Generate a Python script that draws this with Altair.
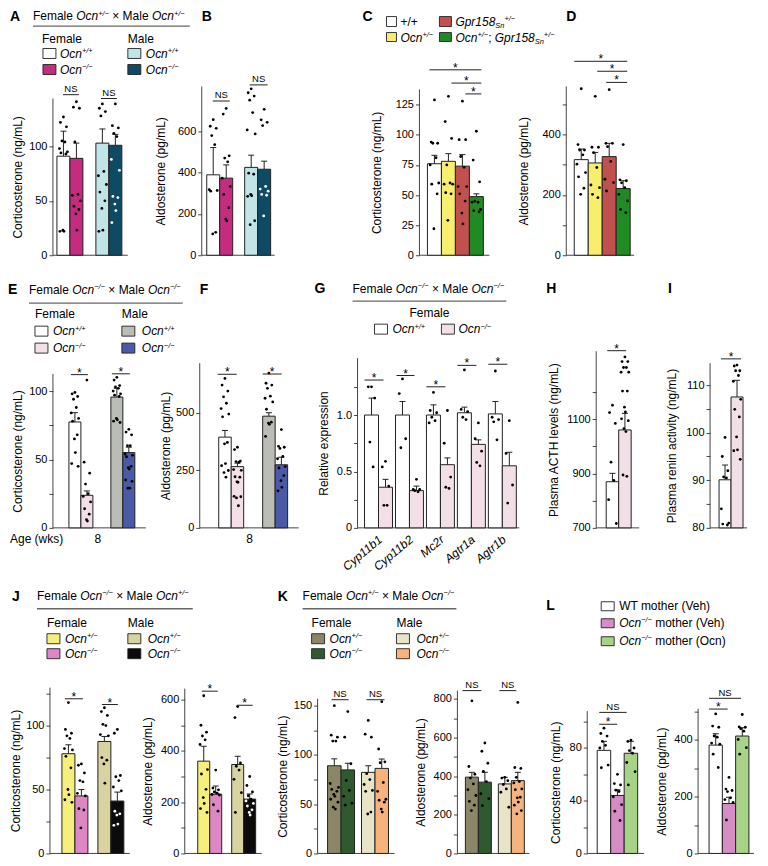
import altair as alt
import pandas as pd

FONT = "Liberation Sans"
MINUS = "\u2212"
PP, PM, MM = "+/+", "+/" + MINUS, MINUS + "/" + MINUS

# ---------------- colours ----------------
A_COL = ["#ffffff", "#c52b7f", "#c0e4e7", "#0e4a64"]
C_COL = ["#ffffff", "#f6ee6c", "#c1504e", "#1f8b22"]
E_COL = ["#ffffff", "#f3dfe8", "#b9bdb5", "#4b5aa7"]
G_COL = ["#ffffff", "#f3dfe8"]
J_COL = ["#f6ef7c", "#dc88c4", "#d8d3a1", "#0b0b0b"]
K_COL = ["#8c8669", "#2f5a30", "#e7e4c7", "#f6b37d"]
L_COL = ["#ffffff", "#d68cc5", "#a7d386"]

# ---------------- values ----------------
A_means = [91, 89, 103, 101]
A_upper = [114, 103, 116, 111]
A_dots = [[127, 122, 118, 105, 104, 98, 95, 94, 93, 23, 22, 22],
          [141, 136, 135, 104, 56, 55, 50, 45, 42, 38, 23],
          [139, 135, 132, 128, 77, 73, 65, 58, 50, 43, 23, 22],
          [139, 119, 117, 112, 109, 88, 78, 54, 53, 47, 41, 30]]
B_means = [389, 373, 425, 416]
B_upper = [521, 437, 484, 455]
B_dots = [[656, 624, 614, 579, 535, 317, 313, 310, 111, 103],
          [710, 683, 481, 470, 452, 373, 333, 294, 230, 175, 167],
          [805, 786, 770, 750, 690, 606, 587, 397, 392, 294, 288, 285, 167, 148],
          [706, 655, 643, 627, 333, 320, 310, 294, 290, 190]]
C_means = [76, 78, 74, 48.7]
C_upper = [83, 84.4, 83.6, 51]
C_dots = [[129, 94, 93, 93, 81, 75, 60, 59, 51, 22],
          [132, 111, 97, 75, 60, 59, 59, 52, 51, 29],
          [128, 96, 96, 82, 73, 57, 57, 51, 45, 35, 26],
          [103, 79, 61, 45, 44, 44, 38, 37, 36]]
D_means = [317, 306, 327, 221]
D_upper = [352, 341, 371, 247]
D_dots = [[552, 367, 349, 349, 333, 302, 274, 260, 222, 202],
          [527, 358, 358, 340, 291, 233, 224, 202, 191],
          [549, 371, 371, 360, 311, 252, 241, 213],
          [367, 250, 247, 240, 224, 202, 180, 152, 141]]
E_means = [77.4, 23.8, 95.6, 55]
E_upper = [84.2, 27, 102, 59]
E_dots = [[99, 98, 96, 94, 88, 84, 80, 78, 68, 65, 55, 47, 45],
          [108, 48, 40, 32, 25, 23, 19, 14, 10, 6, 5],
          [110, 108, 104, 103, 102, 100, 98, 97, 96, 80, 79, 78, 77],
          [72, 70, 68, 60, 60, 54, 53, 52, 45, 44, 43, 35, 34, 29, 29]]
F_means = [394, 266, 485, 274]
F_upper = [423, 281, 500, 307]
F_dots = [[649, 620, 594, 569, 541, 518, 494, 482, 371, 365, 279, 270, 249, 240, 220],
          [350, 340, 290, 288, 285, 253, 250, 222, 220, 200, 198, 137, 135, 130, 96],
          [672, 628, 620, 606, 572, 563, 547, 515, 459, 455, 450, 397],
          [427, 354, 350, 345, 310, 300, 266, 260, 227, 205, 176, 161]]
G_genes = ["Cyp11b1", "Cyp11b2", "Mc2r", "Agtr1a", "Agtr1b"]
G_wt_means = [1.0, 1.0, 1.0, 1.02, 1.01]
G_wt_upper = [1.15, 1.12, 1.09, 1.07, 1.12]
G_ko_means = [0.36, 0.33, 0.56, 0.74, 0.55]
G_ko_upper = [0.43, 0.37, 0.62, 0.78, 0.67]
G_wt_dots = [[1.25, 1.25, 1.15, 0.76, 0.54], [1.32, 1.19, 0.79, 0.71],
             [1.2, 1.04, 1.02, 0.98, 0.95, 0.93], [1.40, 1.05, 1.03, 0.98, 0.96],
             [1.39, 0.98, 0.96, 0.94, 0.78]]
G_ko_dots = [[0.59, 0.54, 0.37, 0.2, 0.2], [0.43, 0.34, 0.34, 0.33, 0.32],
             [1.04, 0.75, 0.45, 0.36, 0.35], [0.93, 0.79, 0.68, 0.58, 0.55],
             [0.95, 0.66, 0.38, 0.22]]
H_means = [870, 1061]
H_upper = [901, 1122]
H_dots = [[1152, 1125, 1085, 942, 875, 804, 716],
          [1330, 1313, 1313, 1291, 1291, 1274, 1274, 1204, 1204, 1145, 1127, 1102, 1095, 1066, 1055, 895, 890]]
I_means = [90.1, 107.5]
I_upper = [93.2, 111]
I_dots = [[99, 95, 92, 90.7, 90.5, 84, 81, 80.8, 80.6],
          [114.2, 114, 113, 113, 112, 110.8, 107, 104.9, 103.3, 99.1, 96.4, 96.2, 94.4]]
J1_means = [78, 45, 87.6, 41]
J1_upper = [85, 50, 91.5, 48]
J1_dots = [[118, 97, 94, 92, 90, 82, 81, 76, 67, 50, 46, 42, 40],
           [70, 69, 63, 57, 56, 47, 45, 35, 34, 20],
           [114, 111, 108, 101, 100, 93, 92, 75, 73, 70, 55],
           [97, 94, 61, 60, 57, 52, 49, 33, 31, 30, 23, 22]]
J2_means = [360, 231, 347, 212]
J2_upper = [418, 263, 379, 232]
J2_dots = [[615, 500, 473, 458, 443, 425, 327, 310, 250, 218, 195, 175, 160],
           [325, 255, 248, 240, 235, 230, 228, 190, 165],
           [573, 530, 353, 340, 325, 289, 237, 160],
           [300, 265, 240, 225, 212, 205, 195, 185, 170, 160, 150]]
K1_means = [89, 84.8, 82.3, 86.3]
K1_upper = [96, 91.5, 89, 95.8]
K1_dots = [[150, 120, 118, 114, 114, 71, 67, 65, 63, 60, 58, 55, 52, 47, 45],
           [144, 118, 91, 74, 64, 58, 51, 49],
           [135, 121, 118, 81, 75, 70, 64, 63, 42, 40],
           [154, 106, 93, 92, 72, 63, 55, 54, 52, 45, 42]]
K2_means = [395, 369, 360, 377]
K2_upper = [420, 420, 394, 420]
K2_dots = [[790, 450, 410, 390, 360, 330, 300, 270, 250, 222],
           [572, 529, 467, 425, 372, 309, 283, 248],
           [394, 390, 377, 357, 334, 317, 239],
           [782, 445, 440, 394, 372, 365, 334, 330, 291, 288, 266, 250, 222, 205]]
L1_means = [78.2, 44, 76]
L1_upper = [85, 48.3, 85]
L1_dots = [[95, 91, 89, 85, 82, 80, 67, 65],
           [60, 53, 52, 48, 47, 43, 37, 32, 25],
           [86, 85, 80, 78, 76, 69, 62, 52]]
L2_means = [382, 176, 414]
L2_upper = [422, 198, 443]
L2_dots = [[492, 449, 445, 414, 410, 389, 385, 350, 303],
           [268, 227, 222, 218, 196, 190, 180, 118],
           [490, 446, 445, 440, 431, 402, 373, 350]]

G_means, G_upper, G_dots, G_colors = [], [], [], []
for k in range(len(G_genes)):
    G_means += [G_wt_means[k], G_ko_means[k]]
    G_upper += [G_wt_upper[k], G_ko_upper[k]]
    G_dots += [G_wt_dots[k], G_ko_dots[k]]
    G_colors += G_COL

DATA = {
    "A": (A_means, A_upper, A_dots, A_COL), "B": (B_means, B_upper, B_dots, A_COL),
    "C": (C_means, C_upper, C_dots, C_COL), "D": (D_means, D_upper, D_dots, C_COL),
    "E": (E_means, E_upper, E_dots, E_COL), "F": (F_means, F_upper, F_dots, E_COL),
    "G": (G_means, G_upper, G_dots, G_colors),
    "H": (H_means, H_upper, H_dots, G_COL), "I": (I_means, I_upper, I_dots, G_COL),
    "J1": (J1_means, J1_upper, J1_dots, J_COL), "J2": (J2_means, J2_upper, J2_dots, J_COL),
    "K1": (K1_means, K1_upper, K1_dots, K_COL), "K2": (K2_means, K2_upper, K2_dots, K_COL),
    "L1": (L1_means, L1_upper, L1_dots, L_COL), "L2": (L2_means, L2_upper, L2_dots, L_COL),
}

# ---------------- layout (styles / positions) ----------------
ROWS = [dict(top=85, bottom=254, band=(8, 266)),
        dict(top=266, bottom=527, band=(266, 576)),
        dict(top=576, bottom=853, band=(576, 853))]
CORT = "Corticosterone (ng/mL)"
ALDO = "Aldosterone (pg/mL)"


def rng(a, b, s):
    out, v = [], a
    while v <= b + 1e-9:
        out.append(round(v, 4))
        v += s
    return out


LAY = {
    "A": dict(row=0, ax=53, width=149, y0=0, ppu=1.09, first=4, bw=13, gap=13, per=2, base=75, top=144,
              ticks=[0, 50, 100], lab=[0, 50, 100], title=CORT, tx=-35.5,
              sig=[(0, 1, 147.5, "NS", 6, 4), (2, 3, 144, "NS", 5, 5)], dark=[3], anchor=True),
    "B": dict(row=0, ax=202, width=218, y0=0, ppu=0.207, first=5, bw=13, gap=12, per=2, base=73, top=816,
              ticks=[0, 200, 400, 600], lab=[0, 200, 400, 600], title=ALDO, tx=-41,
              sig=[(0, 1, 746, "NS", 6, 3), (2, 3, 824, "NS", 5, 3)], dark=[3]),
    "C": dict(row=0, ax=420, width=147, y0=0, ppu=1.2056, first=8, bw=14, gap=0, per=4, base=70, top=137.7,
              ticks=rng(0, 125, 25), lab=rng(0, 125, 25), title=CORT, tx=-43,
              sig=[(0, 3, 154, "*", 2, 2), (1, 3, 143, "*", 10, 2), (2, 3, 134, "*", 10, 2)], dark=[]),
    "D": dict(row=0, ax=567, width=160, y0=0, ppu=0.302, first=8, bw=14, gap=0, per=4, base=68, top=560,
              ticks=rng(0, 500, 100), lab=[0, 200, 400], title=ALDO, tx=-43,
              sig=[(0, 3, 643, "*", 0, 3), (1, 3, 610, "*", 9, 3), (2, 3, 573, "*", 4, 3)], dark=[]),
    "E": dict(row=1, ax=53, width=147, y0=0, ppu=1.37, first=16, bw=12, gap=18, per=2, base=93, top=112.4,
              ticks=rng(0, 100, 25), lab=[0, 50, 100], title=CORT, tx=-35.5,
              sig=[(0, 1, 112, "*", 2, 5), (2, 3, 112.6, "*", 1, 5)], dark=[], anchor=True),
    "F": dict(row=1, ax=200, width=158, y0=0, ppu=0.2306, first=19, bw=12.5, gap=19, per=2, base=99, top=715,
              ticks=[0, 250, 500], lab=[0, 250, 500], title=ALDO, tx=-34,
              sig=[(0, 1, 667, "*", -1, 7), (2, 3, 668, "*", 0, 6)], dark=[]),
    "G": dict(row=1, ax=358, width=239, y0=0, ppu=113, first=7, bw=14, gap=3, per=2, base=162, top=1.504,
              ticks=rng(0, 1.25, 0.25), lab={0: "0", 0.5: "0.5", 1: "1.0"}, title="Relative expression", tx=-34,
              sig=[(0, 1, 1.31, "*", 0, 9), (2, 3, 1.35, "*", 1, 9), (4, 5, 1.25, "*", 0, 9),
                   (6, 7, 1.44, "*", 0, 9), (8, 9, 1.45, "*", 0, 9)], dark=[]),
    "H": dict(row=1, ax=597, width=114, y0=700, ppu=0.2717, first=10, bw=12.5, gap=0, per=2, base=43, top=1351,
              ticks=rng(700, 1200, 100), lab=[700, 900, 1100], title="Plasma ACTH levels (ng/mL)", tx=-43,
              sig=[(0, 1, 1353, "*", 1, 5)], dark=[]),
    "I": dict(row=1, ax=711, width=50, y0=80, ppu=4.767, first=9, bw=12, gap=0, per=2, base=37, top=114.6,
              ticks=rng(80, 110, 5), lab=[80, 90, 100, 110], title="Plasma renin activity (ng/mL)", tx=-38.5,
              sig=[(0, 1, 115.5, "*", 2, 2)], dark=[]),
    "J1": dict(row=2, ax=50, width=135, y0=0, ppu=1.28, first=12, bw=13, gap=10, per=2, base=80, top=129.7,
               ticks=rng(0, 125, 25), lab=[0, 50, 100], title=CORT, tx=-34,
               sig=[(0, 1, 121, "*", 3, 5), (2, 3, 116.5, "*", 4, 6)], dark=[3], anchor=True),
    "J2": dict(row=2, ax=185, width=133, y0=0, ppu=0.2567, first=13, bw=12, gap=10, per=2, base=77, top=643,
               ticks=rng(0, 600, 100), lab=[0, 200, 400, 600], title=ALDO, tx=-37.5,
               sig=[(0, 1, 633, "*", 4, 4), (2, 3, 578, "*", 5, 3)], dark=[3]),
    "K1": dict(row=2, ax=318, width=140, y0=0, ppu=0.9867, first=10, bw=13.5, gap=7, per=2, base=77, top=157,
               ticks=rng(0, 150, 25), lab=[0, 50, 100, 150], title=CORT, tx=-35.5,
               sig=[(0, 1, 156, "NS", 4, 6), (2, 3, 156, "NS", 5, 4)], dark=[]),
    "K2": dict(row=2, ax=458, width=130, y0=0, ppu=0.1934, first=8, bw=13, gap=7, per=2, base=72, top=843,
               ticks=rng(0, 800, 100), lab=[0, 200, 400, 600, 800], title=ALDO, tx=-37,
               sig=[(0, 1, 843, "NS", -3, 10), (2, 3, 843, "NS", 1, 8)], dark=[]),
    "L1": dict(row=2, ax=588, width=111, y0=0, ppu=1.32, first=10, bw=13.5, gap=0, per=3, base=57, top=108,
               ticks=rng(0, 100, 20), lab=[0, 40, 80], title=CORT, tx=-32,
               sig=[(0, 1, 98, "*", 2, 7), (0, 2, 107, "NS", 2, 11)], dark=[]),
    "L2": dict(row=2, ax=699, width=62, y0=0, ppu=0.284, first=11, bw=13.3, gap=0, per=3, base=56, top=510,
               ticks=rng(0, 500, 100), lab=[0, 200, 400], title=ALDO, tx=-36.5,
               sig=[(0, 1, 509, "*", 0, 8), (0, 2, 547, "NS", 0, 8)], dark=[]),
}

# ---------------- text helpers (Arial / Liberation Sans metrics) ----------------
ARIAL = {}
for chars, w in [(" ", 278), ("()-", 333), ("+" + MINUS + "\u00d7", 584), ("/;.,", 278), ("*", 389),
                 ("0123456789", 556), ("abdeghnopqu", 556), ("ckvxyzs", 500), ("ilj", 222), ("ft", 278),
                 ("r", 333), ("m", 833), ("w", 722), ("ABEKPSVXY", 667), ("CDHNRU", 722), ("GOQ", 778),
                 ("FTZ", 611), ("L", 556), ("M", 833), ("W", 944), ("I", 278), ("J", 500)]:
    for ch in chars:
        ARIAL[ch] = w


def tw(s, size):
    return sum(ARIAL.get(ch, 556) for ch in s) * size / 1000.0


def T(x, y, segs, size=12, align="left"):
    return ("text", x, y, segs, size, align)


def R(x1, y1, x2, y2, col):
    return ("rect", x1, y1, x2, y2, col)


def Ln(x1, x2, y):
    return ("line", x1, x2, y)


def cross(f, m):
    return [("Female ", "n"), ("Ocn", "i"), (f, "sup"), (" \u00d7 Male ", "n"), ("Ocn", "i"), (m, "sup")]


def ocn(g, rest=None):
    s = [("Ocn", "i"), (g, "sup")]
    if rest:
        s.append((rest, "n"))
    return s


def sexleg(x1, x2, xl1, xl2, yh, ys1, ys2, cols, g1, g2, xf=None):
    return [T(xf if xf else x1, yh, [("Female", "n")]), T(x2, yh, [("Male", "n")]),
            R(x1, ys1 - 5, x1 + 13, ys1 + 5, cols[0]), R(x1, ys2 - 5, x1 + 13, ys2 + 5, cols[1]),
            R(x2, ys1 - 5, x2 + 13, ys1 + 5, cols[2]), R(x2, ys2 - 5, x2 + 13, ys2 + 5, cols[3]),
            T(xl1, ys1, ocn(g1)), T(xl1, ys2, ocn(g2)), T(xl2, ys1, ocn(g1)), T(xl2, ys2, ocn(g2))]


GPR = [("Gpr158", "i"), ("Sn", "sub"), (PM, "sup")]
HEAD = {
    "A": [T(10, 14, [("A", "b")], 14), T(33, 14.5, cross(PM, PM)), Ln(33, 190, 24.5)]
         + sexleg(43, 128, 60, 146, 37, 52, 68, A_COL, PP, MM, xf=42),
    "B": [T(202, 14, [("B", "b")], 14)],
    "C": [T(363, 14, [("C", "b")], 14),
          R(387, 15, 397, 25, C_COL[0]), T(401, 20, [("+/+", "n")]),
          R(387, 31, 397, 40, C_COL[1]), T(401, 36, ocn(PM)),
          R(440, 15, 452, 25, C_COL[2]), T(456, 20, GPR),
          R(440, 31, 452, 40, C_COL[3]), T(456, 36, ocn(PM) + [("; ", "n")] + GPR)],
    "D": [T(567, 14, [("D", "b")], 14)],
    "E": [T(8, 288, [("E", "b")], 14), T(29, 288, cross(MM, MM)), Ln(29, 183, 302),
          T(10, 538, [("Age (wks)", "n")]), T(98, 538, [("8", "n")], align="center")]
         + sexleg(35, 122, 53, 142, 313, 330, 347, E_COL, PP, MM),
    "F": [T(200, 288, [("F", "b")], 14), T(250, 538, [("8", "n")], align="center")],
    "G": [T(315, 287, [("G", "b")], 14), T(353, 287, cross(MM, MM)), Ln(353, 507, 300),
          T(430, 312, [("Female", "n")], align="center"),
          R(375, 323, 388, 333, G_COL[0]), T(393, 328, ocn(PP)),
          R(442, 323, 455, 333, G_COL[1]), T(459, 328, ocn(MM))],
    "H": [T(547, 287, [("H", "b")], 14)],
    "I": [T(669, 287, [("I", "b")], 14)],
    "J1": [T(12, 595, [("J", "b")], 14), T(37, 595, cross(MM, PM)), Ln(37, 193, 608)]
          + sexleg(47, 128, 65, 148, 622, 638, 653, J_COL, PM, MM),
    "K1": [T(278, 595, [("K", "b")], 14), T(303, 595, cross(PM, MM)), Ln(303, 457, 608)]
          + sexleg(312, 397, 330, 417, 622, 638, 653, K_COL, PM, MM, xf=312),
    "L1": [T(547, 604, [("L", "b")], 14),
           R(602, 601, 615, 610, L_COL[0]), T(620, 605, [("WT mother (Veh)", "n")]),
           R(602, 618, 615, 627, L_COL[1]), T(620, 622, ocn(MM, " mother (Veh)")),
           R(602, 636, 615, 645, L_COL[2]), T(620, 640, ocn(MM, " mother (Ocn)"))],
}

JIT = [0, -3, 3, -1.5, 1.5, -4, 4, -2.5, 2.5, -0.5, 0.5, -3.5, 3.5, -1, 1, -2, 2]


def build(key):
    lay = LAY[key]
    means, upper, dots, cols = DATA[key]
    row = ROWS[lay["row"]]
    rb, rt = row["bottom"], row["top"]
    H = rb - rt
    ax, y0, ppu, W = lay["ax"], lay["y0"], lay["ppu"], lay["width"]

    def dy(py):
        return y0 + (rb - py) / ppu

    def dx(px):
        return px - ax

    xs = alt.Scale(domain=[0, W], nice=False, zero=False)
    ys = alt.Scale(domain=[dy(rb), dy(rt)], nice=False, zero=False)
    lab = lay["lab"]
    if isinstance(lab, dict):
        items = list(lab.items())
    else:
        items = [(v, str(v)) for v in lab]
    expr = "''"
    for v, s in reversed(items):
        expr = "datum.value == %s ? '%s' : (%s)" % (v, s, expr)
    top_px = rb - (lay["top"] - y0) * ppu
    yax = alt.Axis(values=lay["ticks"], labelExpr=expr, title=lay["title"], titleX=lay["tx"],
                   titleY=(top_px + rb) / 2 - rt, titleAngle=270, titleAlign="center",
                   titleBaseline="middle", labelFlush=False, labelOverlap=False)

    def X(f):
        return alt.X(f, type="quantitative", scale=xs, axis=None)

    def Y(f):
        return alt.Y(f, type="quantitative", scale=ys, axis=yax)

    n = len(means)
    bw, per = lay["bw"], lay["per"]
    lefts = [lay["first"] + (i // per) * (per * bw + lay["gap"]) + (i % per) * bw for i in range(n)]
    bars = pd.DataFrame(dict(l=lefts, r=[a + bw for a in lefts], c=[a + bw / 2 for a in lefts],
                             b=[y0] * n, m=means, u=upper, col=cols[:n],
                             cl=[a + bw / 2 - 3 for a in lefts], cr=[a + bw / 2 + 3 for a in lefts]))
    drows = []
    for i in range(n):
        for k, v in enumerate(sorted(dots[i], reverse=True)):
            dc = "white" if (i in lay["dark"] and v < means[i]) else "black"
            drows.append(dict(x=lefts[i] + bw / 2 + JIT[k % len(JIT)] * bw / 13.0, v=v, dc=dc))
    ddf = pd.DataFrame(drows)

    layers = []
    if lay.get("anchor"):
        b0, b1 = row["band"]
        adf = pd.DataFrame(dict(x=[dx(8)], y1=[dy(b0)], y2=[dy(b1)]))
        layers.append(alt.Chart(adf).mark_rule(opacity=0, strokeWidth=0.1).encode(
            x=X("x"), y=Y("y1"), y2=alt.Y2("y2")))
    axdf = pd.DataFrame(dict(x=[0], x2=[lay["base"]], b=[y0], t=[lay["top"]]))
    layers.append(alt.Chart(axdf).mark_rule(color="#444", strokeWidth=1).encode(
        x=X("x"), y=Y("b"), y2=alt.Y2("t")))
    layers.append(alt.Chart(axdf).mark_rule(color="#444", strokeWidth=1).encode(
        x=X("x"), x2=alt.X2("x2"), y=Y("b")))
    layers.append(alt.Chart(bars).mark_rule(color="#222", strokeWidth=1).encode(
        x=X("c"), y=Y("m"), y2=alt.Y2("u")))
    layers.append(alt.Chart(bars).mark_rule(color="#222", strokeWidth=1).encode(
        x=X("cl"), x2=alt.X2("cr"), y=Y("u")))
    layers.append(alt.Chart(bars).mark_rect(stroke="#222", strokeWidth=1).encode(
        x=X("l"), x2=alt.X2("r"), y=Y("b"), y2=alt.Y2("m"), fill=alt.Fill("col:N", scale=None)))
    layers.append(alt.Chart(ddf).mark_circle(size=8, opacity=1).encode(
        x=X("x"), y=Y("v"), color=alt.Color("dc:N", scale=None)))

    srows, trows = [], []
    for (i, j, yv, txt, a, b) in lay["sig"]:
        x1, x2 = lefts[i] + a, lefts[j] + bw - b
        srows.append(dict(x1=x1, x2=x2, y=yv))
        if txt == "*":
            trows.append(dict(x=(x1 + x2) / 2, y=yv - 2.0 / ppu, t="*", fs=12, st="n", al="center"))
        else:
            trows.append(dict(x=(x1 + x2) / 2, y=yv + 2.7 / ppu, t="NS", fs=9.5, st="n", al="center"))
    sdf = pd.DataFrame(srows)
    layers.append(alt.Chart(sdf).mark_rule(color="#222", strokeWidth=1).encode(
        x=X("x1"), x2=alt.X2("x2"), y=Y("y")))

    rrows, lrows = [], []
    for it in HEAD.get(key, []):
        if it[0] == "text":
            _, x, yc, segs, size, align = it
            total = sum(tw(t, size * (0.62 if k in ("sup", "sub") else 1)) for t, k in segs)
            if align == "center":
                x -= total / 2
            base = yc + 0.36 * size
            cx = x
            for t, k in segs:
                if k == "sup":
                    fs, yb, st = size * 0.62, base - 0.40 * size, "i"
                elif k == "sub":
                    fs, yb, st = size * 0.62, base + 0.15 * size, "i"
                else:
                    fs, yb, st = size, base, k
                lead = len(t) - len(t.lstrip(" "))
                shown = t.strip(" ")
                if shown:
                    trows.append(dict(x=dx(cx + tw(" " * lead, fs)), y=dy(yb), t=shown, fs=fs, st=st,
                                      al="left"))
                cx += tw(t, fs)
        elif it[0] == "rect":
            _, x1, y1, x2, y2, col = it
            rrows.append(dict(x1=dx(x1), x2=dx(x2), y1=dy(y1), y2=dy(y2), col=col))
        else:
            _, x1, x2, yy = it
            lrows.append(dict(x1=dx(x1), x2=dx(x2), y=dy(yy)))
    if rrows:
        layers.append(alt.Chart(pd.DataFrame(rrows)).mark_rect(stroke="#222", strokeWidth=0.9).encode(
            x=X("x1"), x2=alt.X2("x2"), y=Y("y1"), y2=alt.Y2("y2"), fill=alt.Fill("col:N", scale=None)))
    if lrows:
        layers.append(alt.Chart(pd.DataFrame(lrows)).mark_rule(color="#666", strokeWidth=1.3).encode(
            x=X("x1"), x2=alt.X2("x2"), y=Y("y")))
    tdf = pd.DataFrame(trows)
    for (st, al), sub in tdf.groupby(["st", "al"]):
        mk = dict(font=FONT, align=al, baseline="alphabetic", color="black")
        if st == "i":
            mk["fontStyle"] = "italic"
        if st == "b":
            mk["fontWeight"] = "bold"
        layers.append(alt.Chart(sub).mark_text(**mk).encode(
            x=X("x"), y=Y("y"), text="t:N", size=alt.Size("fs:Q", scale=None)))
    if key == "G":
        gdf = pd.DataFrame(dict(x=[lefts[2 * k] + bw + 2 for k in range(len(G_genes))],
                                y=[dy(rb + 10)] * len(G_genes), t=G_genes))
        layers.append(alt.Chart(gdf).mark_text(font=FONT, fontSize=12, fontStyle="italic", angle=320,
                                               align="right", baseline="middle", color="black").encode(
            x=X("x"), y=Y("y"), text="t:N"))
    return alt.layer(*layers).properties(width=W, height=H)


def spacer(h):
    return alt.Chart(pd.DataFrame({"a": [0]})).mark_point(opacity=0).encode(
        x=alt.X("a:Q", axis=None), y=alt.Y("a:Q", axis=None)).properties(width=3, height=h)


row1 = alt.hconcat(spacer(ROWS[0]["bottom"] - ROWS[0]["top"]), build("A"), build("B"), build("C"), build("D"),
                   spacing=0, bounds="flush")
row2 = alt.hconcat(spacer(ROWS[1]["bottom"] - ROWS[1]["top"]), build("E"), build("F"), build("G"), build("H"),
                   build("I"), spacing=0, bounds="flush")
row3 = alt.hconcat(build("J1"), build("J2"), build("K1"), build("K2"), build("L1"), build("L2"),
                   spacing=0, bounds="flush")

chart = alt.vconcat(row1, row2, row3, spacing=0).properties(padding=0).configure_view(
    stroke=None).configure_axis(labelFont=FONT, titleFont=FONT, labelFontSize=11, titleFontSize=12,
                                titleFontWeight="normal", labelColor="black", titleColor="black",
                                tickColor="#444", tickSize=4, labelPadding=2, domain=False, grid=False)

chart.save("out.html", embed_options={"renderer": "svg", "actions": False})
